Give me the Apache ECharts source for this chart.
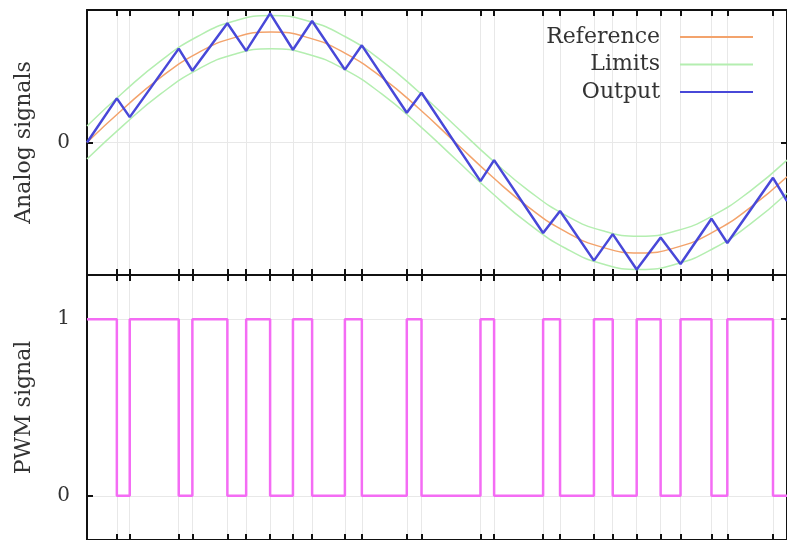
<!DOCTYPE html>
<html>
<head>
<meta charset="utf-8">
<script src="https://cdn.jsdelivr.net/npm/echarts@6/dist/echarts.min.js"></script>
<style>
  html, body { margin: 0; padding: 0; background: #fff; }
  #chart { width: 787px; height: 540px; }
</style>
</head>
<body>
<div id="chart"></div>
<script>
// time axis in ms, one period of the reference = 20 ms
var refTimes = [0, 1, 2, 3, 4, 5, 6, 7, 8, 9, 10, 11, 12, 13, 14, 15, 16, 17, 18, 19];
var refValues = [0, 0.31, 0.59, 0.81, 0.95, 1.0, 0.95, 0.81, 0.59, 0.31, 0, -0.31, -0.59, -0.81, -0.95, -1.0, -0.95, -0.81, -0.59, -0.31];
var upperLimit = [0.15, 0.46, 0.74, 0.96, 1.10, 1.15, 1.10, 0.96, 0.74, 0.46, 0.15, -0.16, -0.44, -0.66, -0.80, -0.85, -0.80, -0.66, -0.44, -0.16];
var lowerLimit = [-0.15, 0.16, 0.44, 0.66, 0.80, 0.85, 0.80, 0.66, 0.44, 0.16, -0.15, -0.46, -0.74, -0.96, -1.10, -1.15, -1.10, -0.96, -0.74, -0.46];

// switching instants of the PWM signal
var switchTimes = [0.81, 1.16, 2.49, 2.86, 3.81, 4.32, 4.97, 5.59, 6.11, 7.0, 7.46, 8.68, 9.08,
                   10.68, 11.05, 12.38, 12.84, 13.76, 14.27, 14.92, 15.57, 16.11, 16.95, 17.38, 18.62];
// output value at t=0, at each switch, and at t=19
var outputValues = [0, 0.40, 0.23, 0.85, 0.65, 1.08, 0.83, 1.17, 0.84, 1.10, 0.66, 0.88, 0.27, 0.45,
                    -0.35, -0.16, -0.82, -0.62, -1.07, -0.83, -1.15, -0.86, -1.10, -0.69, -0.91, -0.32, -0.53];
// PWM level from t=0 and after each switch
var pwmLevels = [1, 0, 1, 0, 1, 0, 1, 0, 1, 0, 1, 0, 1, 0, 1, 0, 1, 0, 1, 0, 1, 0, 1, 0, 1, 0];
var tEnd = 19;

var font = 'DejaVu Serif';
var txtColor = '#333';

var allTimes = [0].concat(switchTimes).concat([tEnd]);
var refData = refTimes.map(function (t, i) { return [t, refValues[i]]; });
var upData = refTimes.map(function (t, i) { return [t, upperLimit[i]]; });
var loData = refTimes.map(function (t, i) { return [t, lowerLimit[i]]; });
var outData = allTimes.map(function (t, i) { return [t, outputValues[i]]; });
var pwmData = allTimes.map(function (t, i) {
    return [t, pwmLevels[Math.min(i, pwmLevels.length - 1)]];
});

function xAx(grid, pos, split) {
    return {
        type: 'value', gridIndex: grid, position: pos, min: 0, max: tEnd,
        axisLine: { show: true, onZero: false, lineStyle: { color: '#111', width: 2 } },
        axisTick: { show: true, inside: true, length: 6, customValues: switchTimes,
                    lineStyle: { color: '#111', width: 2 } },
        axisLabel: { show: false },
        splitLine: { show: split, lineStyle: { color: '#e8e8e8', width: 1 } }
    };
}

function yAx(grid, pos, min, max, ticks, name) {
    return {
        type: 'value', gridIndex: grid, position: pos, min: min, max: max,
        name: name, nameLocation: 'middle', nameRotate: 90, nameGap: 52,
        nameTextStyle: { fontFamily: font, fontSize: 22, color: txtColor },
        axisLine: { show: true, onZero: false, lineStyle: { color: '#111', width: 2 } },
        axisTick: { show: true, inside: true, length: 6, customValues: ticks,
                    lineStyle: { color: '#111', width: 2 } },
        axisLabel: { show: pos === 'left', customValues: ticks, margin: 17,
                     fontFamily: font, fontSize: 20, color: txtColor },
        splitLine: { show: pos === 'left', lineStyle: { color: '#e8e8e8', width: 1 } }
    };
}

var myChart = echarts.init(document.getElementById('chart'));

var option = {
    animation: false,
    grid: [
        { left: 87, right: -3, top: 10, height: 265 },
        { left: 87, right: -3, top: 275, height: 267 }
    ],
    legend: {
        data: ['Reference', 'Limits', 'Output'],
        orient: 'vertical',
        align: 'right',
        right: 29,
        top: 21,
        icon: 'rect',
        itemWidth: 73,
        itemHeight: 2,
        itemGap: 5.5,
        textStyle: { fontFamily: font, fontSize: 22, color: txtColor, lineHeight: 22,
                     padding: [0, 15, 0, 0] }
    },
    xAxis: [
        xAx(0, 'bottom', true),
        xAx(0, 'top', false),
        xAx(1, 'bottom', true),
        xAx(1, 'top', false)
    ],
    yAxis: [
        yAx(0, 'left', -1.2, 1.2, [0], 'Analog signals'),
        yAx(0, 'right', -1.2, 1.2, [0], ''),
        yAx(1, 'left', -0.25, 1.25, [0, 1], 'PWM signal'),
        yAx(1, 'right', -0.25, 1.25, [0, 1], '')
    ],
    series: [
        {
            name: 'Reference', type: 'line', xAxisIndex: 0, yAxisIndex: 0,
            data: refData, smooth: true, symbol: 'none',
            lineStyle: { color: '#f3a36c', width: 1.5 }, itemStyle: { color: '#f3a36c' }
        },
        {
            name: 'Limits', type: 'line', xAxisIndex: 0, yAxisIndex: 0,
            data: upData, smooth: true, symbol: 'none',
            lineStyle: { color: '#b4eeb0', width: 1.5 }, itemStyle: { color: '#b4eeb0' }
        },
        {
            name: 'Limits', type: 'line', xAxisIndex: 0, yAxisIndex: 0,
            data: loData, smooth: true, symbol: 'none',
            lineStyle: { color: '#b4eeb0', width: 1.5 }, itemStyle: { color: '#b4eeb0' }
        },
        {
            name: 'Output', type: 'line', xAxisIndex: 0, yAxisIndex: 0,
            data: outData, symbol: 'none',
            lineStyle: { color: '#4848d8', width: 2.5 }, itemStyle: { color: '#4848d8' }
        },
        {
            name: 'PWM', type: 'line', xAxisIndex: 2, yAxisIndex: 2,
            data: pwmData, step: 'end', symbol: 'none',
            lineStyle: { color: '#f46cf4', width: 2.5 }, itemStyle: { color: '#f46cf4' }
        }
    ]
};

myChart.setOption(option);
</script>
</body>
</html>
